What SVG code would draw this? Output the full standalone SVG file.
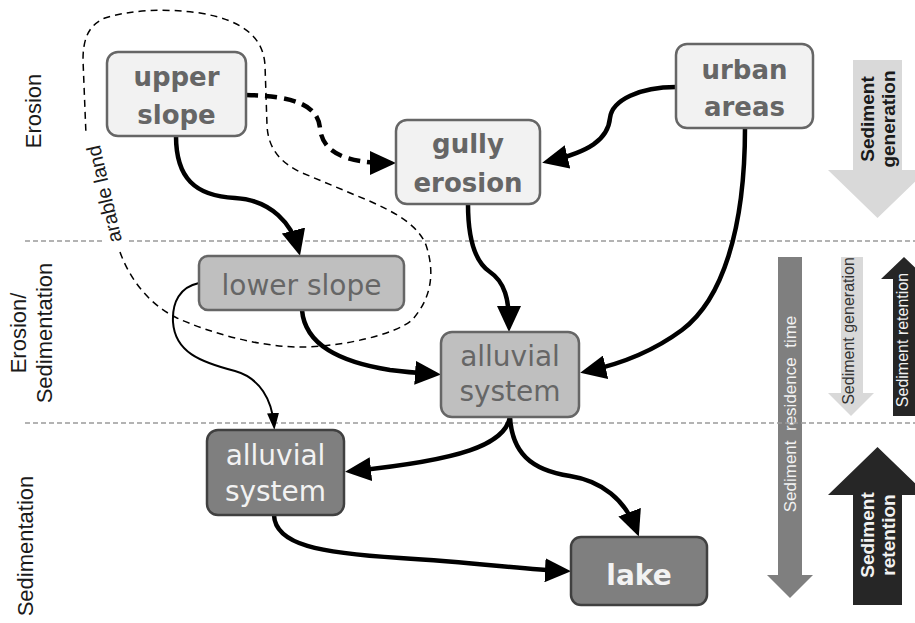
<svg xmlns="http://www.w3.org/2000/svg" width="915" height="623" viewBox="0 0 915 623">
<style>
.band{stroke:#9a9a9a;stroke-width:1.3;stroke-dasharray:5 3;fill:none}
.lab{font-family:"Liberation Sans",Arial,sans-serif;font-size:22px;fill:#1a1a1a;text-anchor:middle}
.box1{fill:#f2f2f2;stroke:#666;stroke-width:2.5}
.box2{fill:#bfbfbf;stroke:#666;stroke-width:2.5}
.box3{fill:#7f7f7f;stroke:#404040;stroke-width:2.5}
.t1{font-family:"DejaVu Sans",sans-serif;font-size:26px;font-weight:bold;fill:#666;text-anchor:middle}
.t2{font-family:"DejaVu Sans",sans-serif;font-size:28px;fill:#666;text-anchor:middle}
.t3{font-family:"DejaVu Sans",sans-serif;font-size:28px;fill:#f2f2f2;text-anchor:middle}
.con{fill:none;stroke:#000;stroke-width:4.5;marker-end:url(#ah)}
.side{font-family:"Liberation Sans",Arial,sans-serif;text-anchor:middle}
</style>
<defs>
<marker id="ah" markerUnits="userSpaceOnUse" markerWidth="26" markerHeight="24" refX="18" refY="12" orient="auto">
<path d="M0,0 L26,12 L0,24 z" fill="#000"/>
</marker>
<marker id="ahs" markerUnits="userSpaceOnUse" markerWidth="17" markerHeight="12" refX="12" refY="6" orient="auto">
<path d="M0,0 L17,6 L0,12 z" fill="#000"/>
</marker>
</defs>
<rect width="915" height="623" fill="#fff"/>

<g id="side-arrows">
<polygon points="853,60 902,60 902,170 927,170 877.5,218 828,170 853,170" fill="#d9d9d9"/>
<text class="side" font-size="19" font-weight="bold" fill="#1a1a1a" transform="translate(874,119) rotate(-90)">Sediment</text>
<text class="side" font-size="19" font-weight="bold" fill="#1a1a1a" transform="translate(895,119) rotate(-90)">generation</text>

<polygon points="778,257 802,257 802,575 813,575 790,598 767,575 778,575" fill="#7f7f7f"/>
<text class="side" font-size="17" fill="#f2f2f2" xml:space="preserve" transform="translate(796,414) rotate(-90)">Sediment  residence  time</text>

<polygon points="841,257 863,257 863,393 874,393 851,416 828,393 841,393" fill="#d9d9d9"/>
<text class="side" font-size="16" fill="#333" transform="translate(854,331) rotate(-90)">Sediment generation</text>

<polygon points="893,416 915,416 915,279 927,279 904,257 881,279 893,279" fill="#262626"/>
<text class="side" font-size="16" fill="#f2f2f2" transform="translate(908,340) rotate(-90)">Sediment retention</text>

<polygon points="853,605 902,605 902,495 927,495 877.5,447 828,495 853,495" fill="#262626"/>
<text class="side" font-size="19" font-weight="bold" fill="#f2f2f2" transform="translate(874,535) rotate(-90)">Sediment</text>
<text class="side" font-size="19" font-weight="bold" fill="#f2f2f2" transform="translate(895,535) rotate(-90)">retention</text>
</g>

<g id="bands">
<line class="band" x1="25" y1="241" x2="915" y2="241"/>
<line class="band" x1="25" y1="423" x2="915" y2="423"/>
<text class="lab" transform="translate(41,111) rotate(-90)">Erosion</text>
<text class="lab" transform="translate(26,333) rotate(-90)">Erosion/</text>
<text class="lab" transform="translate(52,333) rotate(-90)">Sedimentation</text>
<text class="lab" transform="translate(33,546) rotate(-90)">Sedimentation</text>
</g>

<g id="arable-land">
<path d="M120,252 C130,280 150,305 177,318 C210,333 260,347 300,347 C340,347 395,335 412,320 C430,300 436,275 426,245 C418,225 395,212 367,200 L300,172 C282,163 268,150 267,125 L265,65 C263,35 240,20 200,13 C165,8 130,10 105,18 C88,25 83,40 83,60 L86,135" fill="none" stroke="#000" stroke-width="1.5" stroke-dasharray="7 5"/>
<g transform="translate(104,194) rotate(-103)">
<rect x="-54" y="-11" width="108" height="22" fill="#fff"/>
<text x="0" y="7" font-family="Liberation Sans,Arial,sans-serif" font-size="20" fill="#1a1a1a" text-anchor="middle">arable land</text>
</g>
</g>

<g id="connectors">
<path class="con" d="M246,95 C300,96 318,108 320,128 C322,152 345,163 388,163" stroke-width="5" stroke-dasharray="12 7"/>
<path class="con" d="M176,136 C176,178 195,196 235,198 C272,200 292,225 298,248"/>
<path class="con" d="M676,87 C640,87 612,100 610,118 C608,140 588,152 550,161"/>
<path class="con" d="M468,204 C468,240 475,262 490,272 C505,282 509,300 509,324"/>
<path class="con" d="M745,128 C745,230 722,300 682,330 C655,350 625,363 588,371"/>
<path class="con" d="M302,310 C305,345 340,362 390,370 C405,372 418,373 433,374"/>
<path d="M199,283 C180,287 172,302 173,322 C175,352 200,362 235,371 C260,378 272,400 274,425" fill="none" stroke="#000" stroke-width="2" marker-end="url(#ahs)"/>
<path class="con" d="M510,417 C505,445 460,460 353,471"/>
<path class="con" d="M510,417 C512,452 530,470 570,476 C602,481 625,500 636,529"/>
<path class="con" d="M274,515 C275,545 320,553 400,558 C480,563 520,569 563,571"/>
</g>

<g id="upper-slope">
<rect class="box1" x="107" y="52" width="139" height="84" rx="11"/>
<text class="t1" x="176.5" y="86">upper</text>
<text class="t1" x="176.5" y="124">slope</text>
</g>
<g id="gully-erosion">
<rect class="box1" x="396" y="120" width="144" height="84" rx="11"/>
<text class="t1" x="468" y="153">gully</text>
<text class="t1" x="468" y="192">erosion</text>
</g>
<g id="urban-areas">
<rect class="box1" x="676" y="44" width="137" height="84" rx="11"/>
<text class="t1" x="744.5" y="79">urban</text>
<text class="t1" x="744.5" y="116">areas</text>
</g>
<g id="lower-slope">
<rect class="box2" x="199" y="256" width="205" height="54" rx="9"/>
<text class="t2" x="301.5" y="295">lower slope</text>
</g>
<g id="alluvial-system-1">
<rect class="box2" x="441" y="332" width="138" height="85" rx="11"/>
<text class="t2" x="510" y="366">alluvial</text>
<text class="t2" x="510" y="401">system</text>
</g>
<g id="alluvial-system-2">
<rect class="box3" x="207" y="430" width="137" height="85" rx="11"/>
<text class="t3" x="275.5" y="465">alluvial</text>
<text class="t3" x="275.5" y="501">system</text>
</g>
<g id="lake">
<rect class="box3" x="571" y="537" width="136" height="68" rx="10"/>
<text class="t3" x="639" y="585" font-size="34" font-weight="bold">lake</text>
</g>
</svg>
